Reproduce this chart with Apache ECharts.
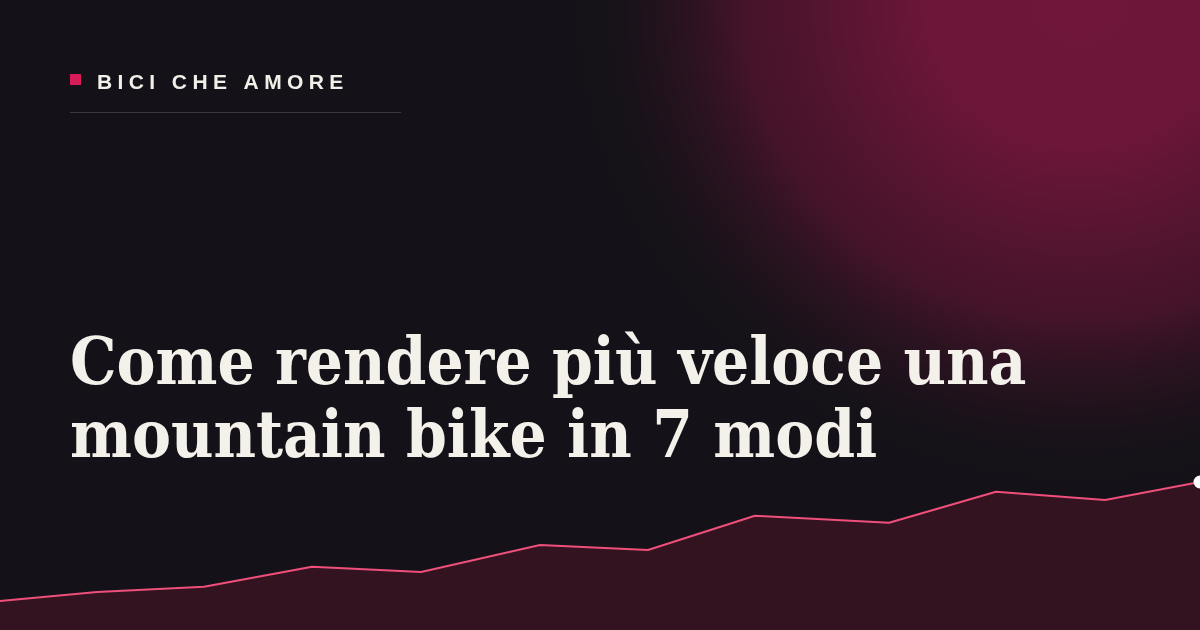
<!DOCTYPE html>
<html>
<head>
<meta charset="utf-8">
<script src="https://cdn.jsdelivr.net/npm/echarts@6/dist/echarts.min.js"></script>
<style>
  html, body { margin: 0; padding: 0; background: #141218; }
  #main { width: 1200px; height: 630px; }
</style>
</head>
<body>
<div id="main"></div>
<script>
// dati
const kicker = 'BICI CHE AMORE';
const titleLines = ['Come rendere più veloce una', 'mountain bike in 7 modi'];
const xs = [0, 8.9, 18.7, 28.6, 38.6, 49.5, 59.4, 69.2, 81.5, 91.3, 101.3, 110];
const speed = [11.6, 15.2, 17.3, 25.3, 23.2, 34.0, 32.0, 45.7, 42.9, 55.3, 52.0, 59.2];

const chart = echarts.init(document.getElementById('main'), null, { renderer: 'canvas' });

// lettere del kicker una per una (spaziatura)
const kickerFont = 'bold 21px "Liberation Sans", Arial, sans-serif';
const spacing = 5.4;
const mctx = document.createElement('canvas').getContext('2d');
mctx.font = kickerFont;
let cx = 97;
const kickerLetters = [];
for (const ch of kicker) {
  if (ch !== ' ') {
    kickerLetters.push({
      type: 'text', left: cx, top: 73, z: 10,
      style: { text: ch, font: kickerFont, fill: '#f2eee8' }
    });
  }
  cx += mctx.measureText(ch).width + spacing;
}

const points = xs.map((x, i) => [x, speed[i]]);

const option = {
  backgroundColor: '#141218',
  animation: false,
  grid: { left: 0, right: 0, top: 380, bottom: 0 },
  xAxis: { type: 'value', min: 0, max: 110, show: false },
  yAxis: { type: 'value', min: 0, max: 100, show: false },
  graphic: [
    {
      type: 'rect', z: -10, silent: true,
      x: 0, y: 0, scaleY: 0.95,
      shape: { x: 0, y: 0, width: 1200, height: 680 },
      style: {
        fill: {
          type: 'radial', x: 1080, y: 0, r: 520, global: true,
          colorStops: [
            { offset: 0, color: 'rgba(111,22,58,1)' },
            { offset: 0.3, color: 'rgba(108,22,57,1)' },
            { offset: 0.65, color: 'rgba(80,20,46,0.8)' },
            { offset: 1, color: 'rgba(20,18,24,0)' }
          ]
        }
      }
    },
    {
      type: 'rect', left: 70, top: 74, z: 10,
      shape: { width: 11, height: 11 },
      style: { fill: '#d81c57' }
    },
    ...kickerLetters,
    {
      type: 'rect', left: 70, top: 112, z: 10,
      shape: { width: 331, height: 1 },
      style: { fill: '#3b393f' }
    },
    {
      type: 'text', left: 70, top: 331, z: 10,
      style: {
        text: titleLines.join('\n'),
        font: 'bold 65px "DejaVu Serif Condensed", "DejaVu Serif", serif',
        lineHeight: 73,
        fill: '#f4f0ea'
      }
    }
  ],
  series: [{
    type: 'line',
    data: points,
    showSymbol: true,
    symbol: (val, params) => params.dataIndex === points.length - 1 ? 'circle' : 'none',
    symbolSize: 13,
    itemStyle: { color: '#ffffff' },
    lineStyle: { color: '#ef4f7b', width: 2 },
    areaStyle: { color: '#33131f', opacity: 1 },
    z: 2
  }]
};

chart.setOption(option);
</script>
</body>
</html>
